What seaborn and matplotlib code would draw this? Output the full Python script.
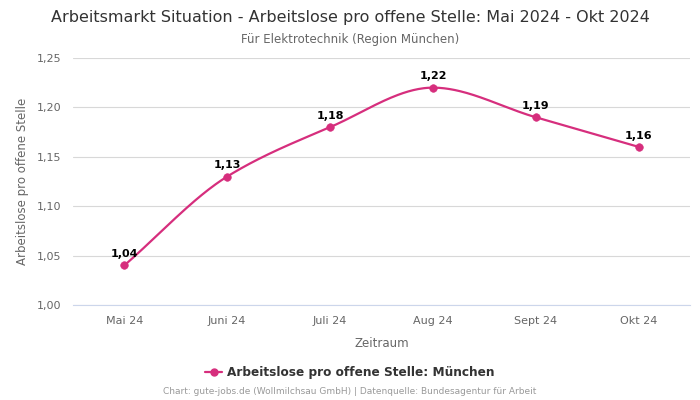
import matplotlib
matplotlib.use("Agg")
import matplotlib.pyplot as plt
from matplotlib.lines import Line2D
import matplotlib.ticker as mtick
import numpy as np
import pandas as pd
import seaborn as sns

sns.set_theme(style="white")
plt.rcParams['font.family'] = ['DejaVu Sans']

# data
months = ["Mai 24", "Juni 24", "Juli 24", "Aug 24", "Sept 24", "Okt 24"]
values = [1.04, 1.13, 1.18, 1.22, 1.19, 1.16]
series_name = "Arbeitslose pro offene Stelle: München"

COLOR = "#d62e7d"


def pchip(x, y, xs):
    """monotone cubic interpolation for a smooth line through the points"""
    x = np.asarray(x, float)
    y = np.asarray(y, float)
    h = np.diff(x)
    d = np.diff(y) / h
    m = np.zeros_like(y)
    for k in range(1, len(x) - 1):
        if d[k - 1] * d[k] > 0:
            w1 = 2 * h[k] + h[k - 1]
            w2 = h[k] + 2 * h[k - 1]
            m[k] = (w1 + w2) / (w1 / d[k - 1] + w2 / d[k])
    m[0] = d[0]
    m[-1] = d[-1]
    idx = np.clip(np.searchsorted(x, xs) - 1, 0, len(x) - 2)
    t = (xs - x[idx]) / h[idx]
    h00 = 2 * t**3 - 3 * t**2 + 1
    h10 = t**3 - 2 * t**2 + t
    h01 = -2 * t**3 + 3 * t**2
    h11 = t**3 - t**2
    return h00 * y[idx] + h10 * h[idx] * m[idx] + h01 * y[idx + 1] + h11 * h[idx] * m[idx + 1]


df = pd.DataFrame({"pos": np.arange(len(months)), "value": values})
xs = np.linspace(0, len(months) - 1, 300)
smooth = pd.DataFrame({"pos": xs, "value": pchip(df["pos"], df["value"], xs)})

fig = plt.figure(figsize=(7, 4), dpi=100)
ax = fig.add_axes([0.104, 0.2375, 0.882, 0.6175])

sns.lineplot(data=smooth, x="pos", y="value", ax=ax, color=COLOR, linewidth=1.6)
sns.scatterplot(data=df, x="pos", y="value", ax=ax, color=COLOR, s=30, edgecolor=COLOR, zorder=5)

for p, v in zip(df["pos"], df["value"]):
    ax.annotate(f"{v:.2f}".replace(".", ","), (p, v), xytext=(0, 4.5), textcoords="offset points",
                ha="center", va="bottom", fontsize=8, fontweight="bold", color="black")

ax.set_xlim(-0.5, len(months) - 0.5)
ax.set_ylim(1.0, 1.25)
ax.set_xticks(df["pos"])
ax.set_xticklabels(months)
ax.set_yticks(np.arange(1.0, 1.2501, 0.05))
ax.yaxis.set_major_formatter(mtick.FuncFormatter(lambda v, _: f"{v:.2f}".replace(".", ",")))
ax.tick_params(axis="both", labelsize=8, colors="#666666", length=0, pad=8)
ax.grid(axis="y", color="#d8d8d8", linewidth=0.8)
ax.grid(axis="x", visible=False)
for s in ["top", "right", "left"]:
    ax.spines[s].set_visible(False)
ax.spines["bottom"].set_color("#ccd6eb")
ax.spines["bottom"].set_linewidth(0.8)

ax.set_xlabel("Zeitraum", fontsize=8.5, color="#666666", labelpad=8)
ax.set_ylabel("Arbeitslose pro offene Stelle", fontsize=8.5, color="#666666", labelpad=6)

fig.text(0.5, 0.957, "Arbeitsmarkt Situation - Arbeitslose pro offene Stelle: Mai 2024 - Okt 2024",
         ha="center", va="center", fontsize=11.5, color="#333333")
fig.text(0.5, 0.902, "Für Elektrotechnik (Region München)", ha="center", va="center",
         fontsize=8.5, color="#666666")

handle = Line2D([0], [0], color=COLOR, marker="o", markersize=5, linewidth=1.6)
fig.legend([handle], [series_name], loc="center", bbox_to_anchor=(0.5, 0.068), frameon=False,
           prop={"size": 8.7, "weight": "bold"}, labelcolor="#333333", handlelength=1.4,
           handletextpad=0.4)

fig.text(0.5, 0.02, "Chart: gute-jobs.de (Wollmilchsau GmbH) | Datenquelle: Bundesagentur für Arbeit",
         ha="center", va="center", fontsize=6.5, color="#999999")

fig.savefig("out.png", dpi=100)
